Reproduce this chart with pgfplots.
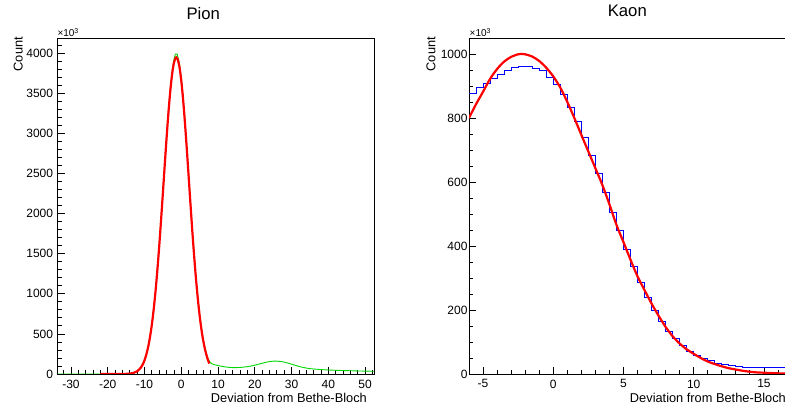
\documentclass[border=0pt]{standalone}
\usepackage{fontspec}
\setmainfont{Liberation Sans}
\usepackage{pgfplots}
\pgfplotsset{compat=1.18}
\definecolor{rootred}{RGB}{255,0,0}
\definecolor{rootgreen}{RGB}{0,215,0}
\definecolor{rootblue}{RGB}{0,0,255}
\pgfplotsset{rootstyle/.style={
  scale only axis,
  axis line style={line width=0.8pt},
  every tick/.style={black, line width=0.8pt},
  tick align=inside, tick pos=left,
  major tick length=7pt, minor tick length=4pt,
  /pgf/number format/assume math mode=true,
  /pgf/number format/1000 sep={},
  ticklabel style={font=\fontsize{12}{12}\selectfont},
  xticklabel style={anchor=north, inner sep=0pt, yshift=-5.5pt},
  yticklabel style={anchor=east, inner sep=0pt},
}}
\begin{document}
\begin{tikzpicture}
% ---------------- Pion ----------------
\begin{axis}[rootstyle,
  at={(57.7pt,35pt)}, anchor=south west,
  width=316.3pt, height=335.7pt,
  xmin=-33.6, xmax=52.4, ymin=0, ymax=4187,
  xtick={-30,-20,-10,0,10,20,30,40,50},
  xticklabels={-30,-20,-10,0,10,20,30,40,50},
  minor xtick={-32,-28,-26,-24,-22,-18,-16,-14,-12,-8,-6,-4,-2,2,4,6,8,12,14,16,18,22,24,26,28,32,34,36,38,42,44,46,48,52},
  ytick={0,500,1000,1500,2000,2500,3000,3500,4000},
  minor ytick={100,200,300,400,600,700,800,900,1100,1200,1300,1400,1600,1700,1800,1900,2100,2200,2300,2400,2600,2700,2800,2900,3100,3200,3300,3400,3600,3700,3800,3900,4100},
  yticklabel style={xshift=-4.4pt},
]
\addplot[rootgreen, line width=0.9pt] coordinates {
(-33.6,0) (-25,0) (-20,0) (-16,1) (-14,5) (-13,13) (-12,34) (-11,80) (-10,172)
(-9,342) (-8,622) (-7,1043) (-6,1608) (-5.5,1935) (-5,2280) (-4.5,2630) (-4,2970)
(-3.5,3286) (-3,3558) (-2.5,3773) (-2,3919) (-1.6,3990) (-1.1,3990) (-1,3969) (-0.5,3870)
(0,3696) (0.5,3455) (1,3163) (1.5,2836) (2,2490) (2.5,2141) (3,1802) (3.5,1486)
(4,1199) (4.5,950) (5,740) (5.5,565) (6,425) (6.5,315) (7,232) (7.5,170) (8,138)
(8.5,124) (9,116) (10,105) (11,96) (12,88) (13,83) (14,80) (15,80) (16,82) (17,86)
(18,92) (19,100) (20,110) (21,122) (22,134) (23,146) (24,155) (25,160) (26,160)
(27,156) (28,148) (29,136) (30,122) (31,108) (32,95) (33,83) (34,74) (35,67) (36,62)
(38,55) (40,50) (42,46) (45,42) (48,38) (50,36) (52.4,34)
};
\addplot[rootred, line width=2.2pt, smooth] coordinates {
(-22,0) (-20,0) (-18,0) (-16,0.5) (-15,1.6) (-14,4.7) (-13,13) (-12,34) (-11,79)
(-10.5,117) (-10,170) (-9.5,243) (-9,338) (-8.5,461) (-8,616) (-7.5,806) (-7,1033)
(-6.5,1296) (-6,1592) (-5.5,1916) (-5,2257) (-4.5,2604) (-4,2941) (-3.5,3253)
(-3,3523) (-2.5,3736) (-2,3880) (-1.5,3946) (-1.35,3950) (-1,3930) (-0.5,3832)
(0,3659) (0.5,3421) (1,3132) (1.5,2808) (2,2465) (2.5,2120) (3,1784) (3.5,1471)
(4,1187) (4.5,938) (5,726) (5.5,550) (6,408) (6.5,297) (7,211) (7.6,130)
};
\end{axis}
% ---------------- Kaon ----------------
\begin{axis}[rootstyle,
  at={(469pt,35pt)}, anchor=south west,
  width=316pt, height=335.7pt,
  xmin=-6, xmax=16.5, ymin=0, ymax=1049,
  xtick={-5,0,5,10,15},
  xticklabels={-5,0,5,10,15},
  minor xtick={-6,-4,-3,-2,-1,1,2,3,4,6,7,8,9,11,12,13,14,16},
  ytick={0,200,400,600,800,1000},
  minor ytick={50,100,150,250,300,350,450,500,550,650,700,750,850,900,950,1050},
  yticklabel style={xshift=-1.3pt},
]
\addplot[rootblue, line width=0.9pt, const plot] coordinates {
(-6,878) (-5.5,894) (-5,908) (-4.5,923) (-4,937) (-3.5,949) (-3,958) (-2.5,962)
(-2,960) (-1.5,956) (-1,947) (-0.5,927) (0,904) (0.5,872) (1,832) (1.5,789) (2,740)
(2.5,684) (3,628) (3.5,567) (4,505) (4.5,447) (5,390) (5.5,335) (6,286) (6.5,239)
(7,200) (7.5,165) (8,134) (8.5,111) (9,90) (9.5,72) (10,59) (10.5,49) (11,41)
(11.5,34) (12,29) (12.5,26) (13,23) (13.5,21) (14,20) (14.5,20) (15,19) (15.5,19)
(16,19) (16.5,19)
};
\addplot[rootred, line width=2.2pt, smooth] coordinates {
(-6,800) (-5.5,843) (-5,882) (-4.5,922) (-4,953) (-3.5,976) (-3,991) (-2.5,999)
(-2.3,1000) (-2,999) (-1.5,992) (-1,978) (-0.5,957) (0,930) (0.5,895) (1,850)
(1.5,800) (2,747) (2.5,695) (3,643) (3.5,590) (4,530) (4.5,466) (5,412) (5.5,357)
(6,305) (6.5,262) (7,220) (7.5,182) (8,147) (8.5,118) (9,95) (9.5,77) (10,63)
(10.5,50) (11,39) (11.5,31) (12,24) (12.5,18) (13,14) (13.5,10) (14,7) (14.5,5)
(15,4) (15.5,3) (16,2) (16.5,1.5)
};
\end{axis}
% ---------------- texts ----------------
\node[anchor=base, inner sep=0pt, font=\fontsize{16.7}{16.7}\selectfont] at (203.3pt,389pt) {Pion};
\node[anchor=base, inner sep=0pt, font=\fontsize{16.7}{16.7}\selectfont] at (627.3pt,392pt) {Kaon};
\node[anchor=base east, inner sep=0pt, font=\fontsize{12.8}{12.8}\selectfont] at (367pt,6pt) {Deviation from Bethe-Bloch};
\node[anchor=base east, inner sep=0pt, font=\fontsize{12.8}{12.8}\selectfont] at (786pt,6pt) {Deviation from Bethe-Bloch};
\node[anchor=base east, rotate=90, inner sep=0pt, font=\fontsize{12.8}{12.8}\selectfont] at (22.7pt,372pt) {Count};
\node[anchor=base east, rotate=90, inner sep=0pt, font=\fontsize{12.8}{12.8}\selectfont] at (435.3pt,372pt) {Count};
\node[anchor=base west, inner sep=0pt, font=\fontsize{10}{10}\selectfont] at (57.3pt,372.3pt) {×10\textsuperscript{3}};
\node[anchor=base west, inner sep=0pt, font=\fontsize{10}{10}\selectfont] at (469.5pt,372.3pt) {×10\textsuperscript{3}};
\pgfresetboundingbox
\useasboundingbox (0,0) rectangle (785pt,409pt);
\end{tikzpicture}
\end{document}
